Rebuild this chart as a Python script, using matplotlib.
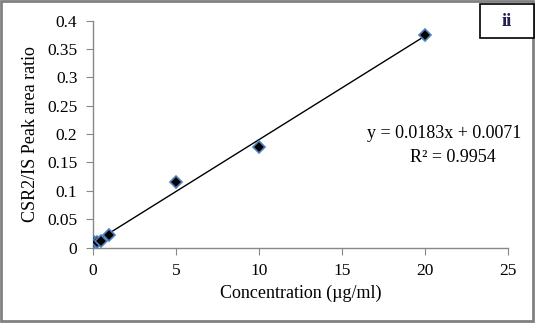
import matplotlib.pyplot as plt
from matplotlib.patches import Rectangle

conc = [0.1, 0.25, 0.5, 1, 5, 10, 20]
ratio = [0.010, 0.010, 0.012, 0.022, 0.115, 0.178, 0.375]
slope = 0.0183
intercept = 0.0071
x_ticks = [0, 5, 10, 15, 20, 25]
y_ticks = [0, 0.05, 0.1, 0.15, 0.2, 0.25, 0.3, 0.35, 0.4]
y_labels = ["0", "0.05", "0.1", "0.15", "0.2", "0.25", "0.3", "0.35", "0.4"]

plt.rcParams['font.family'] = ['Liberation Serif', 'DejaVu Serif']

fig = plt.figure(figsize=(5.37, 3.24), dpi=100)
ax = fig.add_axes([0.1726, 0.236, 0.7735, 0.700])

fit_x = [conc[0], conc[-1]]
fit_y = [slope * v + intercept for v in fit_x]
ax.plot(fit_x, fit_y, color='black', lw=1, zorder=2)
ax.plot(conc, ratio, linestyle='none', marker='D', markersize=6.5,
        markerfacecolor='black', markeredgecolor='#4f81bd', markeredgewidth=1.2, zorder=3)

ax.set_xlim(0, 25)
ax.set_ylim(0, 0.4)
ax.set_xticks(x_ticks)
ax.set_yticks(y_ticks)
ax.set_yticklabels(y_labels)
ax.tick_params(axis='both', direction='out', length=5, color='#888888', labelsize=12.5, pad=6)
for s in ['top', 'right']:
    ax.spines[s].set_visible(False)
for s in ['left', 'bottom']:
    ax.spines[s].set_color('#888888')
    ax.spines[s].set_linewidth(1)

ax.set_xlabel("Concentration (µg/ml)", fontsize=13, labelpad=4)
ax.set_ylabel("CSR2/IS Peak area ratio", fontsize=13, labelpad=6)

fig.text(0.827, 0.589, "y = 0.0183x + 0.0071", fontsize=13, ha='center', va='center')
fig.text(0.843, 0.515, "R² = 0.9954", fontsize=13, ha='center', va='center')

# outer border
fig.patches.append(Rectangle((0.002, 0.009), 0.99, 0.988, transform=fig.transFigure,
                             fill=False, edgecolor='#808080', lw=2))
# label box
fig.patches.append(Rectangle((480 / 537, 1 - 38 / 324), 54 / 537, 34 / 324, transform=fig.transFigure,
                             facecolor='white', edgecolor='black', lw=1.2, zorder=5))
fig.text(507 / 537, 1 - 21 / 324, "ii", fontsize=13.5, fontweight='bold', color='#1f1f50',
         ha='center', va='center', zorder=6)

fig.savefig("out.png", dpi=100)
